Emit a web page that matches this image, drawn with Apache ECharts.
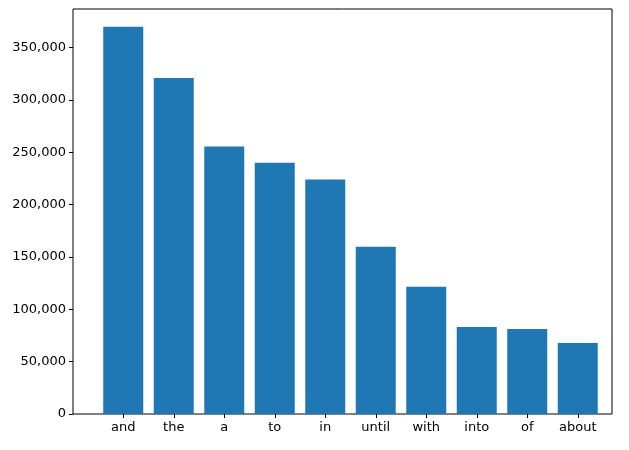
<!DOCTYPE html>
<html><head><meta charset="utf-8">
<script src="https://cdn.jsdelivr.net/npm/echarts@6/dist/echarts.min.js"></script>
<style>html,body{margin:0;background:#fff}#c{width:629px;height:450px}</style>
</head><body><div id="c"></div>
<script>
var words = ['and', 'the', 'a', 'to', 'in', 'until', 'with', 'into', 'of', 'about'];
var counts = [370000, 321000, 255500, 240000, 224000, 159800, 121500, 83200, 81300, 67900];

var chart = echarts.init(document.getElementById('c'));
var font = {color: '#000', fontFamily: 'DejaVu Sans', fontSize: 13};
chart.setOption({
    animation: false,
    grid: {left: 98, right: 26, top: 9, bottom: 36},
    // outer frame like matplotlib axes
    graphic: [{type: 'rect', shape: {x: 73, y: 9, width: 539, height: 405},
        style: {fill: 'none', stroke: '#000', lineWidth: 1}, silent: true}],
    xAxis: {
        type: 'category', data: words,
        axisLine: {show: false},
        axisTick: {show: true, alignWithLabel: true, length: 4, lineStyle: {color: '#000'}},
        axisLabel: Object.assign({margin: 7}, font)
    },
    yAxis: {
        type: 'value', min: 0, max: 387000, interval: 50000, offset: 25,
        axisLine: {show: false},
        axisTick: {show: true, length: 4, lineStyle: {color: '#000'}},
        splitLine: {show: false},
        axisLabel: Object.assign({margin: 7, showMaxLabel: false}, font)
    },
    series: [{type: 'bar', data: counts, barWidth: 40, itemStyle: {color: '#1f77b4'}}]
});
</script></body></html>
